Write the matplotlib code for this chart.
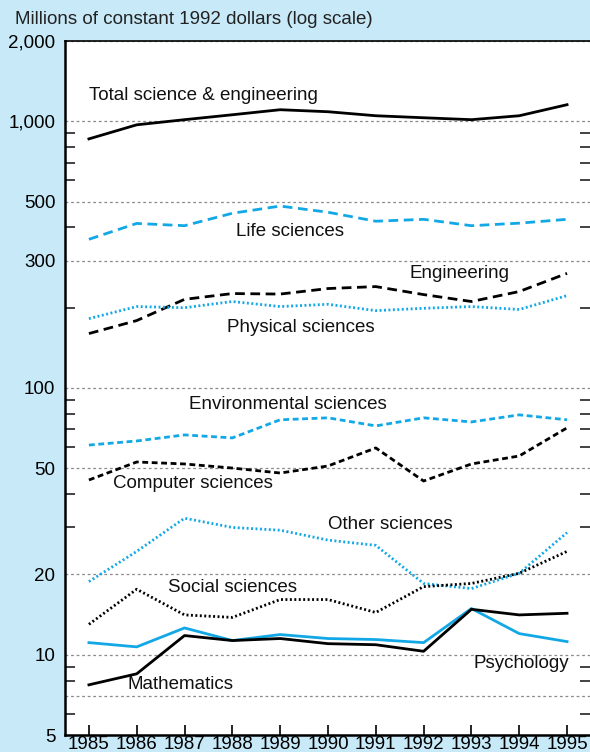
import matplotlib
matplotlib.use("Agg")
import matplotlib.pyplot as plt
from matplotlib.ticker import FixedLocator, FixedFormatter, NullFormatter

plt.rcParams['font.family'] = ['Liberation Sans', 'DejaVu Sans']
plt.rcParams['lines.scale_dashes'] = False

years = list(range(1985, 1996))

total = [859, 970, 1014, 1058, 1105, 1086, 1049, 1031, 1014, 1049, 1154]
life = [361, 414, 406, 452, 481, 456, 422, 429, 406, 415, 429]
engineering = [160, 179, 215, 226, 225, 236, 240, 224, 211, 230, 269]
physical = [182, 202, 200, 211, 202, 206, 195, 199, 202, 197, 222]
environmental = [61.1, 63.3, 66.7, 65.0, 76.0, 77.3, 72.1, 77.3, 74.6, 79.3, 76.0]
computer = [45.2, 52.8, 51.9, 50.1, 48.0, 51.0, 59.6, 44.8, 51.9, 55.6, 70.9]
other = [18.8, 24.4, 32.5, 30.0, 29.3, 26.9, 25.7, 18.5, 17.7, 20.2, 28.7]
social = [13.0, 17.6, 14.1, 13.8, 16.1, 16.1, 14.4, 18.0, 18.5, 20.2, 24.4]
psychology = [11.1, 10.7, 12.6, 11.3, 11.9, 11.5, 11.4, 11.1, 14.9, 12.0, 11.2]
mathematics = [7.71, 8.48, 11.8, 11.3, 11.5, 11.0, 10.9, 10.3, 14.8, 14.1, 14.3]

y_major = [5, 7, 10, 20, 50, 100, 300, 500, 1000, 2000]
y_major_labels = ['5', '', '10', '20', '50', '100', '300', '500', '1,000', '2,000']
y_minor = [6, 8, 9, 30, 40, 60, 70, 80, 90, 200, 400, 600, 700, 800, 900]

BLUE = '#12a8e6'
BG = '#c8e9f8'
FS = 13.5

fig = plt.figure(figsize=(5.9, 7.52), dpi=100, facecolor=BG)
ax = fig.add_axes([65/590, 17/752, 1 - 65/590, (735-41)/752])
ax.set_facecolor('white')
ax.set_yscale('log')
ax.set_ylim(5, 2000)
ax.set_xlim(1984.5, 1995.48)

lw = 2.0
long_dash = (7.0, 4.0)
short_dash = (4.2, 2.6)
dot = (1.4, 1.8)

ax.plot(years, total, color='black', lw=lw)
ax.plot(years, life, color=BLUE, lw=lw, dashes=long_dash)
ax.plot(years, engineering, color='black', lw=lw, dashes=long_dash)
ax.plot(years, physical, color=BLUE, lw=lw, dashes=dot)
ax.plot(years, environmental, color=BLUE, lw=lw, dashes=short_dash)
ax.plot(years, computer, color='black', lw=lw, dashes=short_dash)
ax.plot(years, other, color=BLUE, lw=lw, dashes=dot)
ax.plot(years, social, color='black', lw=lw, dashes=dot)
ax.plot(years, psychology, color=BLUE, lw=lw)
ax.plot(years, mathematics, color='black', lw=lw)

labels = [
    ("Total science & engineering", 1985.0, 1250),
    ("Life sciences", 1988.08, 385),
    ("Engineering", 1991.7, 269),
    ("Physical sciences", 1987.88, 169),
    ("Environmental sciences", 1987.1, 86.8),
    ("Computer sciences", 1985.5, 43.7),
    ("Other sciences", 1990.0, 30.7),
    ("Social sciences", 1986.65, 17.85),
    ("Psychology", 1993.05, 9.3),
    ("Mathematics", 1985.8, 7.72),
]
for txt, x, y in labels:
    ax.text(x, y, txt, fontsize=FS, ha='left', va='center', color='#111111')

ax.yaxis.set_major_locator(FixedLocator(y_major))
ax.yaxis.set_major_formatter(FixedFormatter(y_major_labels))
ax.yaxis.set_minor_locator(FixedLocator(y_minor))
ax.yaxis.set_minor_formatter(NullFormatter())
ax.tick_params(axis='y', which='major', length=0, pad=7, labelsize=FS, left=True, right=False)
ax.tick_params(axis='y', which='minor', length=7, width=1.2, direction='in', left=True, right=True, color='#222222')

ax.set_xticks(years)
ax.set_xticklabels([str(y) for y in years])
ax.tick_params(axis='x', which='major', length=7, width=1.2, direction='in', pad=1, labelsize=FS)
ax.tick_params(axis='x', which='minor', length=0)

ax.grid(True, axis='y', which='major', color='#8a8a8a', lw=0.9, dashes=(2, 2))
ax.grid(False, axis='x')
ax.set_axisbelow(True)

for s in ['left', 'bottom']:
    ax.spines[s].set_linewidth(1.8)
ax.spines['top'].set_linewidth(1.2)
ax.spines['right'].set_visible(False)

fig.text(15/590, 1 - 20/752, "Millions of constant 1992 dollars (log scale)",
         fontsize=FS, ha='left', va='center', color='#222222')

fig.savefig('out.png', dpi=100, facecolor=BG)
